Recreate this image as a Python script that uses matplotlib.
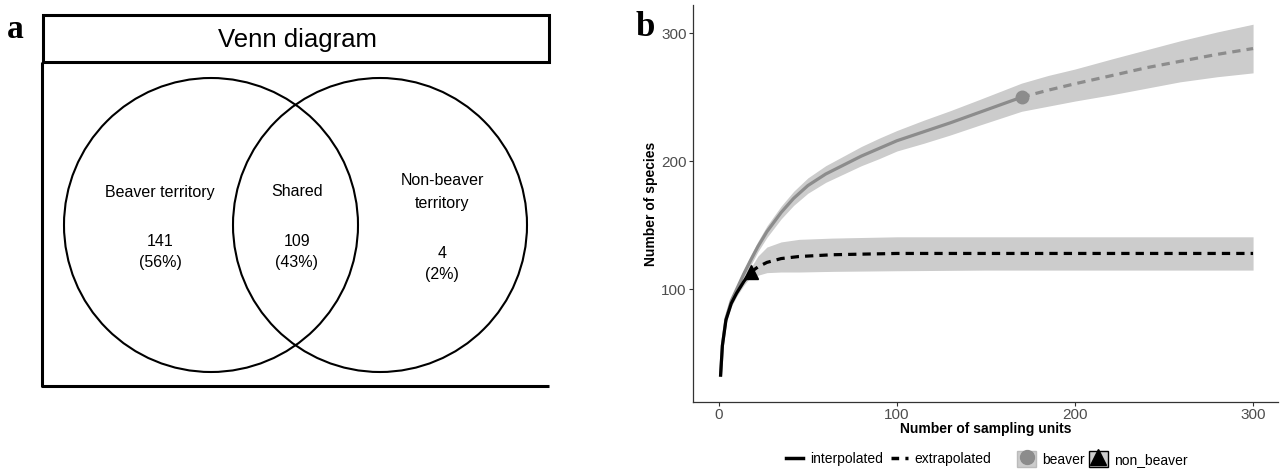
import matplotlib
matplotlib.use("Agg")
import matplotlib.pyplot as plt
from matplotlib.patches import Rectangle, Circle, Patch
from matplotlib.lines import Line2D
from matplotlib.legend_handler import HandlerTuple

plt.rcParams['font.family'] = ['Liberation Sans', 'DejaVu Sans']

# ---------------- data ----------------
venn_labels = ["Beaver territory", "Shared", "Non-beaver\nterritory"]
venn_counts = [141, 109, 4]
venn_pcts = [56, 43, 2]
venn_title = "Venn diagram"

beaver_interp_x = [1, 2, 4, 7, 10, 14, 18, 22, 27, 35, 42, 50, 60, 70, 80, 90, 100, 115, 130, 146, 158, 170]
beaver_interp_y = [33, 56, 77, 91, 100, 112, 123, 133.5, 145, 160, 171, 181, 190, 197, 204, 210, 216, 223, 230, 238, 244, 250]
beaver_interp_lo = [31.5, 54, 74.5, 88, 97, 108.5, 119, 129.5, 140.5, 155, 165.5, 175, 183.5, 190, 196.5, 202, 208, 214, 220.5, 228, 233.5, 239]
beaver_interp_hi = [34.5, 58, 79.5, 94, 103, 115.5, 127, 137.5, 149.5, 165, 176.5, 187, 196.5, 204, 211.5, 218, 224, 232, 239.5, 248, 254.5, 261]
beaver_extrap_x = [170, 185, 200, 221, 240, 259, 280, 300]
beaver_extrap_y = [250, 255.5, 260.5, 267, 273, 278, 283.5, 288]
beaver_extrap_lo = [239, 243, 247, 252, 257, 262, 266, 269]
beaver_extrap_hi = [261, 267, 272, 280, 287, 294, 301, 307]

non_interp_x = [1, 2, 4, 7, 10, 14, 18]
non_interp_y = [33, 56, 76, 89, 97, 106, 113.5]
non_interp_lo = [31.5, 54, 73.5, 86.5, 94.5, 103, 110]
non_interp_hi = [34.5, 58, 78.5, 91.5, 99.5, 109, 117]
non_extrap_x = [18, 22, 27, 35, 45, 64, 100, 150, 200, 300]
non_extrap_y = [113.5, 117.5, 121, 124, 125.6, 127, 128, 128, 128, 128]
non_extrap_lo = [110, 111, 113, 113.5, 113.5, 114, 114.5, 115, 115, 115]
non_extrap_hi = [117, 126, 133, 137, 139, 140, 141, 141, 141, 141]

x_ticks = [0, 100, 200, 300]
y_ticks = [100, 200, 300]

# ---------------- figure ----------------
W, H = 1285, 470
fig = plt.figure(figsize=(W / 100, H / 100), dpi=100)

# panel a (pixel coordinates)
axa = fig.add_axes([0, 0, 560 / W, 1])
axa.set_xlim(0, 560)
axa.set_ylim(H, 0)
axa.axis('off')

axa.add_patch(Rectangle((43, 15), 506, 47, fill=False, lw=2.2, edgecolor='black'))
axa.plot([42, 42, 549], [62, 386, 386], color='black', lw=2.2, solid_capstyle='butt')
axa.text(297, 40, venn_title, ha='center', va='center', fontsize=18.5)

axa.add_patch(Circle((211, 225), 147, fill=False, lw=1.5, edgecolor='black'))
axa.add_patch(Circle((380, 225), 147, fill=False, lw=1.5, edgecolor='black'))

pos = [(160, 192, 252), (297, 192, 252), (442, 192, 264)]
for (x, yl, yn), lab, c, p in zip(pos, venn_labels, venn_counts, venn_pcts):
    axa.text(x, yl, lab, ha='center', va='center', fontsize=11.5, linespacing=1.65)
    axa.text(x, yn, f"{c}\n({p}%)", ha='center', va='center', fontsize=11.5, linespacing=1.45)

fig.text(7 / W, 1 - 30 / H, "a", fontsize=24, fontweight='bold',
         family='Liberation Serif', ha='left', va='center')
fig.text(636 / W, 1 - 28 / H, "b", fontsize=25, fontweight='bold',
         family='Liberation Serif', ha='left', va='center')

# panel b
axb = fig.add_axes([693 / W, 68 / H, (1278 - 693) / W, (402 - 5) / H])
band = '#cccccc'
grey = '#8c8c8c'
dash = (2.6, 1.9)

axb.fill_between(beaver_interp_x + beaver_extrap_x[1:],
                 beaver_interp_lo + beaver_extrap_lo[1:],
                 beaver_interp_hi + beaver_extrap_hi[1:],
                 color=band, lw=0)
axb.fill_between(non_interp_x + non_extrap_x[1:],
                 non_interp_lo + non_extrap_lo[1:],
                 non_interp_hi + non_extrap_hi[1:],
                 color=band, lw=0)

axb.plot(beaver_interp_x, beaver_interp_y, color=grey, lw=2.3, solid_joinstyle='round')
axb.plot(beaver_extrap_x, beaver_extrap_y, color=grey, lw=2.3, dashes=dash)
axb.plot(non_interp_x, non_interp_y, color='black', lw=2.3, solid_joinstyle='round')
axb.plot(non_extrap_x, non_extrap_y, color='black', lw=2.3, dashes=dash)
axb.plot([beaver_interp_x[-1]], [beaver_interp_y[-1]], 'o', color=grey, ms=9)
axb.plot([non_interp_x[-1]], [non_interp_y[-1]], '^', color='black', ms=10)

axb.set_xlim(-14.5, 314)
axb.set_ylim(12, 322)
axb.set_xticks(x_ticks)
axb.set_yticks(y_ticks)
for s in ['top', 'right']:
    axb.spines[s].set_visible(False)
for s in ['left', 'bottom']:
    axb.spines[s].set_color('#333333')
    axb.spines[s].set_linewidth(0.9)
axb.tick_params(colors='#333333', labelcolor='#4d4d4d', labelsize=11,
                length=3, width=0.8, pad=1.5)
axb.set_xlabel("Number of sampling units", fontsize=10, fontweight='bold', labelpad=0)
axb.set_ylabel("Number of species", fontsize=10, fontweight='bold', labelpad=2)

# legends
h_int = Line2D([], [], color='black', lw=2.5)
h_ext = Line2D([], [], color='black', lw=2.5, dashes=(2.2, 1.8))
leg1 = fig.legend([h_int, h_ext], ["interpolated", "extrapolated"], loc='center',
                  bbox_to_anchor=(889 / W, 1 - 459 / H), ncol=2, frameon=False,
                  fontsize=10, handlelength=1.2, handletextpad=0.5, columnspacing=0.6)
h_b = (Patch(facecolor=band, edgecolor='#bbbbbb'),
       Line2D([], [], marker='o', color=grey, ms=10, lw=0))
h_n = (Patch(facecolor=band, edgecolor='black'),
       Line2D([], [], marker='^', color='black', ms=11, lw=0))
leg2 = fig.legend([h_b, h_n], ["beaver", "non_beaver"], loc='center',
                  bbox_to_anchor=(1102 / W, 1 - 459 / H), ncol=2, frameon=False,
                  fontsize=10, handlelength=1.4, handleheight=1.4, handletextpad=0.4,
                  columnspacing=0.3,
                  handler_map={tuple: HandlerTuple(ndivide=1, pad=0)})

fig.savefig("out.png", dpi=100)
